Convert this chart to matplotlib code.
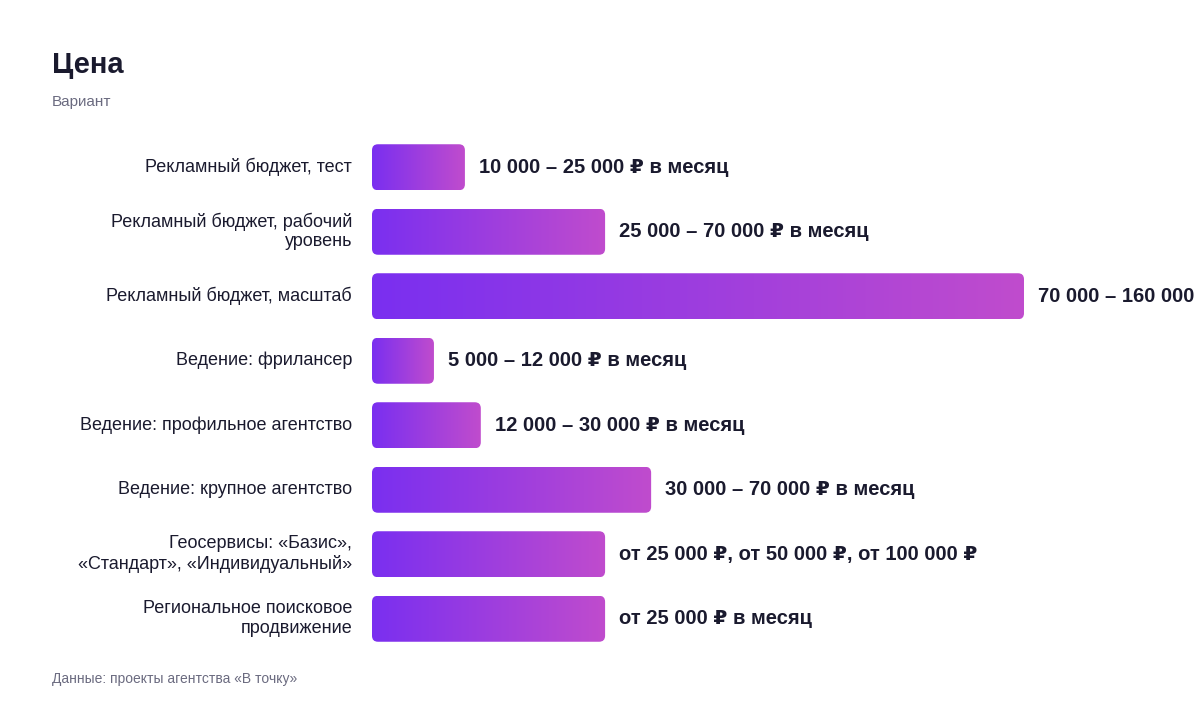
import matplotlib
matplotlib.use("Agg")
import matplotlib.pyplot as plt
import numpy as np
from matplotlib.patches import FancyBboxPatch
from matplotlib.colors import LinearSegmentedColormap

categories = ["Рекламный бюджет, тест", "Рекламный бюджет, рабочий\nуровень",
              "Рекламный бюджет, масштаб", "Ведение: фрилансер",
              "Ведение: профильное агентство", "Ведение: крупное агентство",
              "Геосервисы: «Базис»,\n«Стандарт», «Индивидуальный»",
              "Региональное поисковое\nпродвижение"]
values = [22800, 57200, 160000, 15200, 26700, 68500, 57200, 57200]
labels = ["10 000 – 25 000 ₽ в месяц", "25 000 – 70 000 ₽ в месяц",
          "70 000 – 160 000 ₽ в месяц", "5 000 – 12 000 ₽ в месяц",
          "12 000 – 30 000 ₽ в месяц", "30 000 – 70 000 ₽ в месяц",
          "от 25 000 ₽, от 50 000 ₽, от 100 000 ₽", "от 25 000 ₽ в месяц"]

plt.rcParams['font.family'] = ['Liberation Sans', 'DejaVu Sans']
W, H = 1200, 712
fig = plt.figure(figsize=(12, 7.12), dpi=100)
ax_l, ax_r, ax_t, ax_b = 372, 1024, 135, 651
ax = fig.add_axes([ax_l / W, 1 - ax_b / H, (ax_r - ax_l) / W, (ax_b - ax_t) / H])
xmax = 160000
n = len(values)
ax.axis("off")

xpp = xmax / (ax_r - ax_l)
ypp = n / (ax_b - ax_t)
cmap = LinearSegmentedColormap.from_list("g", ["#7a2ff0", "#c04ccd"])
grad = np.linspace(0, 1, 256).reshape(1, -1)
bh = 46 * ypp
for i, (v, lab) in enumerate(zip(values, labels)):
    p = FancyBboxPatch((0, i - bh / 2), v, bh,
                       boxstyle=f"round,pad=0,rounding_size={6*xpp}",
                       mutation_aspect=ypp / xpp, fc="none", ec="none")
    ax.add_patch(p)
    im = ax.imshow(grad, cmap=cmap, aspect="auto", extent=(0, v, i + bh / 2, i - bh / 2), zorder=2)
    im.set_clip_path(p)
    ax.text(v + 14 * xpp, i, lab, va="center", ha="left", fontsize=14.5, fontweight="bold",
            color="#1a1a2e", clip_on=False)
    fig.text(352 / W, 1 - (167 + i * 64.5) / H, categories[i], ha="right", va="center",
             fontsize=13, color="#1a1a2e", linespacing=1.2)

ax.set_ylim(n - 0.5, -0.5)
ax.set_xlim(0, xmax)
fig.text(52 / W, 1 - 65 / H, "Цена", fontsize=21, fontweight="bold", color="#1a1a2e", va="center")
fig.text(52 / W, 1 - 102 / H, "Вариант", fontsize=11, color="#6b6b80", va="center")
fig.text(52 / W, 1 - 679 / H, "Данные: проекты агентства «В точку»", fontsize=10, color="#6b6b80", va="center")
fig.savefig("out.png", dpi=100)
